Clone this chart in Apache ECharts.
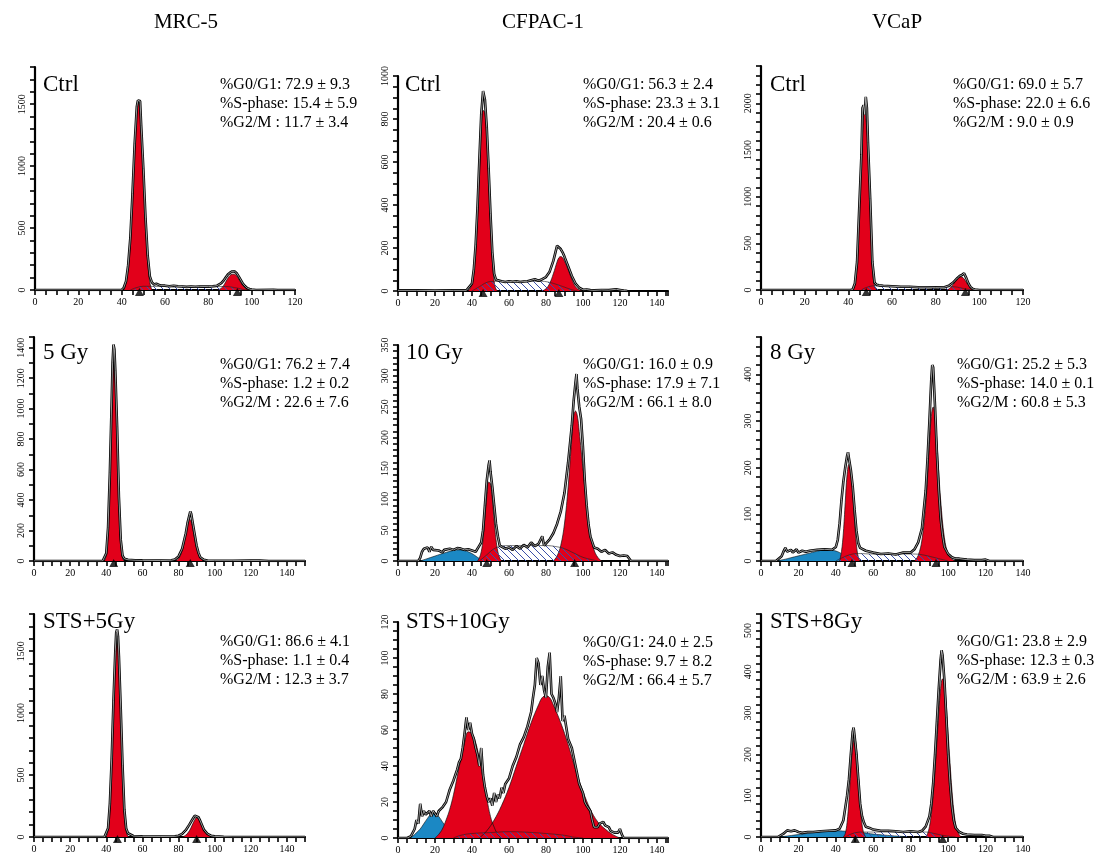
<!DOCTYPE html>
<html><head><meta charset="utf-8">
<script src="https://cdn.jsdelivr.net/npm/echarts@6/dist/echarts.min.js"></script>
<style>html,body{margin:0;padding:0;background:#fff}#c{width:1095px;height:860px}</style>
</head><body><div id="c"></div>
<script>
// ---------- column / panel labels ----------
const columnTitles = ['MRC-5', 'CFPAC-1', 'VCaP'];
const panelLabels = ['Ctrl', 'Ctrl', 'Ctrl', '5 Gy', '10 Gy', '8 Gy', 'STS+5Gy', 'STS+10Gy', 'STS+8Gy'];
const statsG1 = ['72.9 ± 9.3', '56.3 ± 2.4', '69.0 ± 5.7', '76.2 ± 7.4', '16.0 ± 0.9', '25.2 ± 5.3', '86.6 ± 4.1', '24.0 ± 2.5', '23.8 ± 2.9'];
const statsS  = ['15.4 ± 5.9', '23.3 ± 3.1', '22.0 ± 6.6', '1.2 ± 0.2', '17.9 ± 7.1', '14.0 ± 0.1', '1.1 ± 0.4', '9.7 ± 8.2', '12.3 ± 0.3'];
const statsG2 = ['11.7 ± 3.4', '20.4 ± 0.6', '9.0 ± 0.9', '22.6 ± 7.6', '66.1 ± 8.0', '60.8 ± 5.3', '12.3 ± 3.7', '66.4 ± 5.7', '63.9 ± 2.6'];

// axis ranges and tick steps per panel
const xMax   = [120, 146, 120, 150, 146, 140, 150, 146, 140];
const yMax   = [1800, 1000, 2400, 1470, 350, 480, 1800, 120, 540];
const yStep  = [100, 50, 100, 100, 10, 20, 100, 5, 20];
const yMajor = [500, 200, 500, 200, 50, 100, 500, 20, 100];

// ---------- MRC-5 Ctrl ----------
const p1Hist = [[0,0],[40,0],[41,20],[42,70],[43,200],[44,420],[45,780],[46,1180],[47,1480],[47.5,1530],[48,1535],[48.5,1525],[49,1330],[50,980],[51,580],[52,280],[53,110],[54,60],[55,45],[56,50],[58,35],[60,35],[62,30],[64,35],[66,30],[68,28],[70,25],[72,28],[74,26],[76,27],[78,28],[80,27],[82,30],[84,35],[86,55],[87,75],[88,100],[89,125],[90,140],[91,150],[92,152],[93,138],[94,110],[95,80],[96,50],[97,30],[98,15],[99,8],[100,4],[102,0],[110,2],[112,0],[120,0]];
const p1G1 = [[41,0],[42,60],[43,180],[44,400],[45,750],[46,1150],[47,1450],[47.5,1510],[48,1500],[49,1300],[50,950],[51,550],[52,250],[53,60],[54,0]];
const p1G2 = [[84,0],[85,5],[86,15],[87,35],[88,65],[89,95],[90,118],[91,128],[92,128],[93,115],[94,90],[95,60],[96,35],[97,17],[98,6],[99,0]];
const p1S = [[44,0],[47,20],[50,30],[60,28],[70,25],[80,25],[88,28],[92,20],[96,5],[98,0]];
const p1Debris = [];
const p1Marks = [48.2, 93.4];

// ---------- CFPAC-1 Ctrl ----------
const p2Hist = [[0,3],[10,3],[20,2],[30,3],[37,3],[38,5],[40,35],[41,100],[42,215],[43,390],[44,610],[45,820],[46,930],[46.5,935],[47,890],[48,760],[49,570],[50,360],[51,180],[52,80],[53,52],[54,45],[56,45],[58,42],[60,45],[62,43],[64,45],[66,42],[68,44],[70,45],[72,50],[74,55],[75,50],[76,48],[78,55],[80,65],[82,90],[84,140],[85,175],[86,210],[87,215],[88,195],[89,180],[90,160],[92,115],[94,70],[96,35],[98,15],[100,6],[102,7],[104,4],[106,3],[110,5],[114,4],[118,8],[120,5],[122,2],[124,0]];
const p2G1 = [[38,0],[40,30],[41,90],[42,200],[43,360],[44,560],[45,750],[46,840],[47,830],[48,720],[49,540],[50,330],[51,150],[52,45],[53,8],[54,0]];
const p2G2 = [[78,0],[80,10],[82,35],[84,80],[86,135],[87,155],[88,160],[89,155],[90,140],[92,100],[94,55],[96,20],[98,5],[100,0]];
const p2S = [[40,0],[44,20],[48,40],[52,45],[60,45],[70,45],[78,45],[82,40],[86,30],[90,18],[94,6],[97,0]];
const p2Debris = [];
const p2Marks = [46, 87];

// ---------- VCaP Ctrl ----------
const p3Hist = [[0,0],[41,0],[42,5],[43,70],[44,300],[45,880],[46,1450],[46.5,1950],[47,1980],[47.5,1880],[48,2070],[48.5,1950],[49,1580],[50,980],[51,300],[52,80],[53,55],[54,50],[56,45],[60,40],[64,35],[68,35],[72,30],[76,30],[80,28],[84,30],[86,45],[88,80],[90,130],[91,150],[92,160],[93,180],[94,130],[95,70],[96,30],[97,12],[98,5],[100,0],[120,0]];
const p3G1 = [[42,0],[43,60],[44,280],[45,850],[46,1400],[47,1880],[47.5,1950],[48,1850],[49,1550],[50,950],[51,250],[52,40],[53,0]];
const p3G2 = [[85,0],[86,10],[87,30],[88,60],[89,95],[90,125],[91,142],[92,140],[93,120],[94,85],[95,50],[96,22],[97,7],[98,0]];
const p3S = [[46,0],[48,25],[52,45],[60,40],[70,35],[80,32],[88,35],[92,20],[96,3],[97,0]];
const p3Debris = [];
const p3Marks = [48.2, 93.6];

// ---------- MRC-5 5 Gy ----------
const p4Hist = [[0,0],[38,0],[39,5],[40,50],[41,220],[42,580],[43,1050],[43.5,1300],[44,1420],[44.5,1390],[45,1250],[46,880],[47,420],[48,140],[49,35],[50,15],[52,8],[56,5],[60,4],[70,3],[76,5],[78,10],[80,30],[82,80],[84,180],[85,250],[86,300],[86.5,325],[87,310],[88,240],[89,170],[90,100],[91,55],[92,25],[94,8],[96,3],[100,2],[110,2],[120,3],[125,3],[130,0],[150,0]];
const p4G1 = [[39,0],[40,40],[41,200],[42,550],[43,1000],[44,1300],[44.5,1310],[45,1200],[46,850],[47,400],[48,120],[49,20],[50,0]];
const p4G2 = [[78,0],[80,15],[82,70],[84,180],[85,245],[86,275],[87,260],[88,205],[89,140],[90,85],[91,45],[92,20],[93,7],[94,0]];
const p4S = [];
const p4Debris = [];
const p4Marks = [44.1, 86.5];

// ---------- CFPAC-1 10 Gy ----------
const p5Hist = [[0,0],[11,0],[12,5],[13,15],[14,20],[15,18],[16,22],[17,15],[18,23],[19,18],[20,16],[22,17],[24,14],[25,18],[26,19],[28,20],[30,18],[32,21],[34,20],[36,18],[38,19],[40,17],[42,15],[44,25],[45,30],[46,50],[47,90],[48,130],[49,155],[49.5,163],[50,145],[51,120],[52,90],[53,60],[54,40],[55,25],[56,22],[58,20],[60,22],[62,18],[64,24],[66,20],[68,26],[70,22],[72,30],[74,24],[76,28],[78,40],[79,25],[80,28],[82,35],[84,45],[86,60],[88,80],[90,110],[92,160],[94,220],[95,260],[96,290],[96.5,303],[97,280],[98,250],[99,230],[100,185],[101,130],[102,90],[103,60],[104,40],[106,22],[108,20],[110,15],[112,18],[114,12],[116,14],[118,10],[120,8],[122,9],[124,8],[125,5],[126,0],[146,0]];
const p5G1 = [[43,0],[44,5],[45,15],[46,35],[47,70],[48,105],[49,128],[50,125],[51,100],[52,65],[53,35],[54,15],[55,5],[56,0]];
const p5G2 = [[84,0],[86,8],[88,25],[90,60],[92,120],[94,200],[95,235],[96,243],[97,235],[98,210],[100,150],[102,90],[104,45],[106,18],[108,6],[110,0]];
const p5S = [[44,0],[48,10],[52,20],[56,24],[60,25],[70,25],[80,25],[86,23],[90,20],[95,13],[100,6],[105,2],[108,0]];
const p5Debris = [[12,0],[15,3],[20,8],[25,13],[30,17],[33,18],[36,17],[40,12],[43,6],[46,1],[48,0]];
const p5Marks = [48, 95.5];

// ---------- VCaP 8 Gy ----------
const p6Hist = [[0,0],[8,0],[9,3],[11,10],[12,20],[13,28],[14,20],[15,18],[16,24],[17,18],[18,22],[19,25],[20,18],[22,22],[24,20],[26,22],[30,24],[34,25],[38,24],[40,30],[41,45],[42,80],[43,130],[44,170],[45,200],[46,225],[46.5,233],[47,220],[48,195],[49,160],[50,110],[51,65],[52,38],[53,28],[54,25],[56,22],[60,18],[64,15],[68,16],[72,14],[76,18],[80,18],[82,25],[84,40],[86,70],[88,150],[89,220],[90,300],[91,390],[91.5,420],[92,415],[93,330],[94,230],[95,150],[96,90],[97,55],[98,30],[100,15],[102,8],[104,5],[106,5],[110,3],[114,2],[118,2],[120,3],[122,0],[140,0]];
const p6G1 = [[42,0],[43,20],[44,60],[45,125],[46,185],[47,207],[48,195],[49,150],[50,85],[51,35],[52,8],[53,0]];
const p6G2 = [[82,0],[84,12],[86,45],[88,120],[89,180],[90,250],[91,310],[92,330],[93,310],[94,255],[95,190],[96,130],[98,50],[100,15],[102,4],[104,0]];
const p6S = [[40,0],[44,8],[48,14],[52,16],[60,15],[70,15],[80,15],[85,14],[90,10],[95,5],[100,0]];
const p6Debris = [[8,0],[12,3],[16,7],[20,11],[25,16],[30,21],[35,24],[38,23],[41,20],[44,13],[47,6],[50,2],[53,0]];
const p6Marks = [48.6, 93.5];

// ---------- MRC-5 STS+5Gy ----------
const p7Hist = [[0,0],[39,0],[40,5],[41,70],[42,270],[43,630],[44,1100],[45,1500],[45.5,1650],[46,1675],[46.5,1620],[47,1460],[48,1040],[49,580],[50,220],[51,70],[52,30],[53,15],[55,8],[60,5],[70,4],[78,5],[80,10],[82,25],[84,55],[86,100],[88,150],[89,172],[90,180],[91,160],[92,130],[93,95],[94,60],[96,25],[98,10],[100,5],[105,2],[110,0],[150,0]];
const p7G1 = [[40,0],[41,60],[42,250],[43,600],[44,1050],[45,1450],[45.5,1580],[46,1600],[46.5,1560],[47,1420],[48,1000],[49,550],[50,200],[51,50],[52,5],[53,0]];
const p7G2 = [[82,0],[84,15],[86,50],[88,110],[89,140],[90,155],[91,145],[92,120],[93,90],[94,60],[96,22],[98,5],[99,0]];
const p7S = [];
const p7Debris = [];
const p7Marks = [46.2, 90];

// ---------- CFPAC-1 STS+10Gy ----------
const p8Hist = [[0,0],[5,0],[7,1],[9,5],[10,10],[11,8],[12,19],[13,12],[14,15],[15,13],[16,14],[17,15],[18,12],[19,15],[20,14],[21,12],[22,15],[24,17],[26,20],[28,27],[30,32],[31,35],[32,38],[33,42],[34,44],[35,50],[36,58],[37,67],[38,60],[39,64],[40,58],[41,55],[42,50],[43,46],[44,40],[45,50],[46,35],[47,28],[48,23],[49,20],[50,22],[51,18],[52,25],[53,20],[54,24],[55,22],[56,28],[57,25],[58,30],[60,33],[62,40],[64,45],[66,52],[68,56],[70,62],[72,70],[73,78],[74,85],[75,100],[76,97],[77,85],[78,90],[79,82],[80,78],[81,95],[82,103],[83,80],[84,78],[85,75],[86,70],[87,78],[88,90],[89,65],[90,68],[92,55],[94,50],[95,45],[96,40],[98,30],[100,25],[101,20],[102,18],[104,15],[105,10],[106,6],[107,5],[108,6],[109,8],[110,7],[111,9],[112,7],[113,8],[114,6],[115,4],[116,5],[117,3],[118,4],[119,3],[120,5],[121,2],[122,0],[146,0]];
const p8G1 = [[20,0],[22,2],[24,5],[26,10],[28,16],[30,24],[32,34],[34,44],[36,53],[38,59],[40,58],[42,53],[44,44],[46,33],[48,22],[50,12],[52,6],[54,2],[56,0]];
const p8G2 = [[44,0],[48,4],[52,10],[56,18],[60,28],[64,40],[68,52],[72,64],[76,74],[78,78],[80,79],[82,78],[84,74],[88,64],[92,52],[96,38],[100,26],[104,16],[108,9],[112,5],[116,2],[120,0]];
const p8S = [[30,0],[34,1.5],[40,2.5],[50,3],[60,3.5],[70,3.2],[80,2.5],[90,1.5],[95,0.5],[100,0]];
const p8Debris = [[6,0],[8,1],[10,3],[12,5],[14,8],[16,11],[18,13.5],[20,14],[22,12],[24,9],[26,6],[28,3],[30,1],[32,0]];
const p8Marks = [];

// ---------- VCaP STS+8Gy ----------
const p9Hist = [[0,0],[9,0],[10,4],[12,8],[14,16],[16,14],[18,16],[20,12],[22,10],[25,12],[28,12],[32,14],[36,15],[40,16],[42,20],[44,40],[45,70],[46,100],[47,140],[48,200],[49,255],[49.5,265],[50,245],[51,200],[52,140],[53,80],[54,50],[55,35],[56,25],[58,22],[60,18],[64,15],[68,15],[72,14],[76,12],[80,14],[84,12],[86,15],[88,25],[90,50],[91,80],[92,130],[93,200],[94,280],[95,360],[96,430],[96.5,452],[97,440],[98,380],[99,290],[100,200],[101,130],[102,75],[103,40],[104,22],[106,12],[108,8],[110,6],[114,5],[118,5],[120,3],[122,3],[124,0],[140,0]];
const p9G1 = [[44,0],[45,8],[46,35],[47,90],[48,160],[49,220],[50,240],[51,215],[52,150],[53,80],[54,30],[55,8],[56,0]];
const p9G2 = [[88,0],[89,8],[90,25],[91,55],[92,100],[93,160],[94,230],[95,300],[96,360],[97,383],[98,370],[99,320],[100,250],[101,180],[102,115],[103,65],[104,32],[105,14],[106,5],[107,0]];
const p9S = [[45,0],[50,10],[55,12],[60,12],[70,12],[80,12],[88,12],[92,9],[96,5],[100,2],[104,0]];
const p9Debris = [[10,0],[15,3],[20,6],[25,9],[30,12],[35,14],[40,15],[45,14],[50,12],[55,10],[60,7],[65,5],[70,3],[75,1.5],[80,0]];
const p9Marks = [50.4, 97.1];

const hists   = [p1Hist, p2Hist, p3Hist, p4Hist, p5Hist, p6Hist, p7Hist, p8Hist, p9Hist];
const g1s     = [p1G1, p2G1, p3G1, p4G1, p5G1, p6G1, p7G1, p8G1, p9G1];
const g2s     = [p1G2, p2G2, p3G2, p4G2, p5G2, p6G2, p7G2, p8G2, p9G2];
const sPhases = [p1S, p2S, p3S, p4S, p5S, p6S, p7S, p8S, p9S];
const debris  = [p1Debris, p2Debris, p3Debris, p4Debris, p5Debris, p6Debris, p7Debris, p8Debris, p9Debris];
const marks   = [p1Marks, p2Marks, p3Marks, p4Marks, p5Marks, p6Marks, p7Marks, p8Marks, p9Marks];

// ---------- layout ----------
const grids = [
  {left:35, top:67, width:260, height:223},
  {left:398, top:76, width:270, height:215},
  {left:761, top:66, width:262, height:224},
  {left:34, top:337, width:271, height:224},
  {left:398, top:345, width:270, height:216},
  {left:761, top:337, width:262, height:224},
  {left:34, top:614, width:271, height:223},
  {left:398, top:622, width:270, height:216},
  {left:761, top:614, width:262, height:223}
];
const labelPos = [[43,85],[405,85],[770,85],[43,353],[406,353],[770,353],[43,622],[406,622],[770,622]];
const statPos = [[220,85],[583,85],[953,85],[220,365],[583,365],[957,365],[220,642],[583,643],[957,642]];
const titlePos = [186, 543, 897];

const SERIF = '"Liberation Serif","DejaVu Serif",serif';
const RED = '#e2001a', BLUE = '#1b88c4';

// hatch pattern for S-phase
const hc = document.createElement('canvas');
hc.width = 7; hc.height = 7;
const hx = hc.getContext('2d');
hx.strokeStyle = '#3b4fa8'; hx.lineWidth = 1;
hx.beginPath();
hx.moveTo(-1,-1); hx.lineTo(8,8);
hx.moveTo(-1,6); hx.lineTo(1,8);
hx.moveTo(6,-1); hx.lineTo(8,1);
hx.stroke();

const chart = echarts.init(document.getElementById('c'), null, {renderer:'canvas'});
const option = {
  backgroundColor:'#fff',
  animation:false,
  grid: grids.map(g => Object.assign({containLabel:false, outerBoundsMode:'none'}, g)),
  xAxis: grids.map((g,i) => ({
    type:'value', gridIndex:i, min:0, max:xMax[i], interval:5,
    axisLine:{show:true, onZero:false, lineStyle:{color:'#000', width:2.2}},
    axisTick:{show:true, length:5, lineStyle:{color:'#000', width:1.6}},
    axisLabel:{show:true, fontFamily:SERIF, fontSize:10, color:'#000', margin:7, showMaxLabel:true, showMinLabel:true,
      formatter: v => (v % 20 === 0 ? String(v) : '')},
    splitLine:{show:false}
  })),
  yAxis: grids.map((g,i) => ({
    type:'value', gridIndex:i, min:0, max:yMax[i], interval:yStep[i],
    axisLine:{show:true, onZero:false, lineStyle:{color:'#000', width:2.2}},
    axisTick:{show:true, length:5, lineStyle:{color:'#000', width:1.6}},
    axisLabel:{show:true, rotate:90, fontFamily:SERIF, fontSize:10, color:'#000', margin:8,
      formatter: v => (v % yMajor[i] === 0 ? String(v) : '')},
    splitLine:{show:false}
  })),
  series: [],
  graphic: []
};

for (let i = 0; i < 9; i++) {
  const base = {type:'line', xAxisIndex:i, yAxisIndex:i, showSymbol:false, symbol:'none', silent:true};
  if (debris[i].length) option.series.push(Object.assign({}, base, {
    data:debris[i], smooth:0.4, z:2,
    lineStyle:{color:'#111', width:0.6}, areaStyle:{color:BLUE, opacity:1}
  }));
  option.series.push(Object.assign({}, base, {
    data:g1s[i], smooth:0.4, z:3,
    lineStyle:{color:'#111', width:0.7}, areaStyle:{color:RED, opacity:1}
  }));
  option.series.push(Object.assign({}, base, {
    data:g2s[i], smooth:0.4, z:3,
    lineStyle:{color:'#111', width:0.7}, areaStyle:{color:RED, opacity:1}
  }));
  if (sPhases[i].length) option.series.push(Object.assign({}, base, {
    data:sPhases[i], smooth:0.4, z:4,
    lineStyle:{color:'#222', width:0.6}, areaStyle:{color:{image:hc, repeat:'repeat'}, opacity:1}
  }));
  // histogram: thick black line with a thin white core (double-line look)
  option.series.push(Object.assign({}, base, {
    data:hists[i], z:5,
    lineStyle:{color:'#000', width:2.6}
  }));
  option.series.push(Object.assign({}, base, {
    data:hists[i], z:6,
    lineStyle:{color:'#fff', width:0.7, opacity:0.85}
  }));
  if (marks[i].length) option.series.push({
    type:'scatter', xAxisIndex:i, yAxisIndex:i, silent:true, z:8, clip:false,
    symbol:'triangle', symbolSize:[9,8], symbolOffset:[0,2],
    itemStyle:{color:'#000'},
    data: marks[i].map(x => [x, 0])
  });

  option.graphic.push({type:'text', style:{
    text:panelLabels[i], x:labelPos[i][0], y:labelPos[i][1],
    fontFamily:SERIF, fontSize:23, fill:'#000', verticalAlign:'middle', align:'left'}});
  option.graphic.push({type:'text', style:{
    text:'%G0/G1: ' + statsG1[i] + '\n%S-phase: ' + statsS[i] + '\n%G2/M : ' + statsG2[i],
    x:statPos[i][0], y:statPos[i][1] - 9.5, lineHeight:19,
    fontFamily:SERIF, fontSize:16, fill:'#000', verticalAlign:'top', align:'left'}});
}
columnTitles.forEach((t, j) => option.graphic.push({type:'text', style:{
  text:t, x:titlePos[j], y:22, fontFamily:SERIF, fontSize:21, fill:'#000',
  align:'center', verticalAlign:'middle'}}));

chart.setOption(option);
</script>
</body></html>
